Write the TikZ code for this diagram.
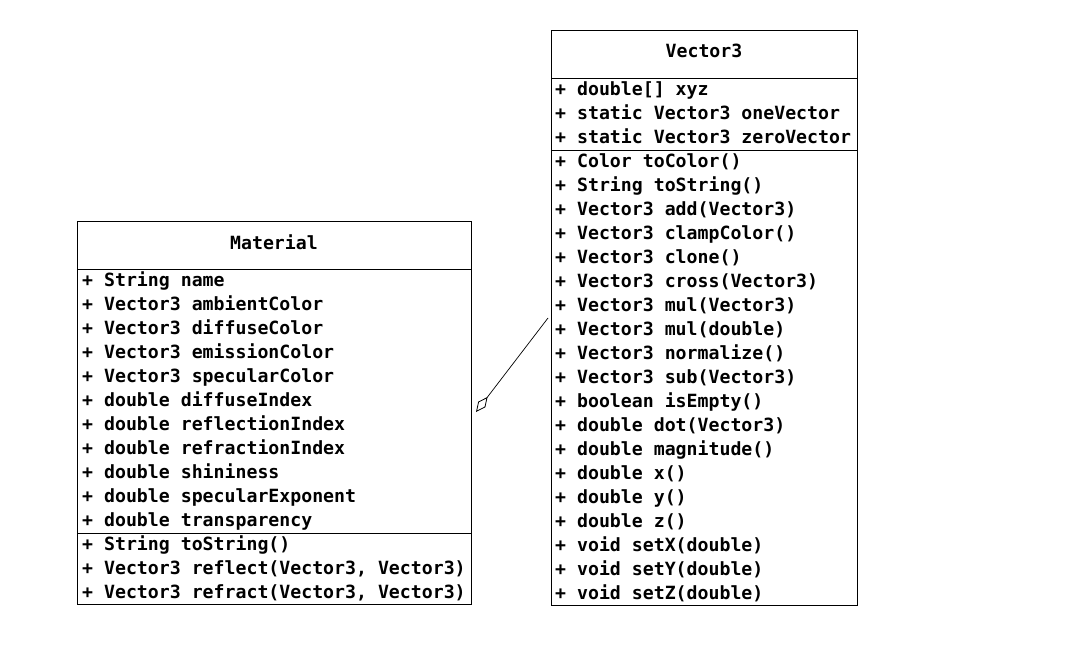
\documentclass[tikz,border=0pt]{standalone}
\usepackage{fontspec}
\setmonofont{DejaVu Sans Mono}
\usetikzlibrary{arrows.meta}
\begin{document}
\begin{tikzpicture}[x=1pt,y=-1pt,
  umlbox/.style={draw, line width=1pt, anchor=north west, inner sep=0pt},
  sep/.style={line width=1pt},
  member/.style={anchor=base west, inner sep=0pt, font=\ttfamily\bfseries\fontsize{18.2}{18}\selectfont},
  title/.style={anchor=base, inner sep=0pt, font=\ttfamily\bfseries\fontsize{18.2}{18}\selectfont},
  assoc/.style={line width=0.7pt, -{Diamond[open, length=19pt, width=9pt, line width=0.8pt]}}]
\useasboundingbox (0,0) rectangle (1073,656);
\fill[white] (0,0) rectangle (1073,656);

% Material
\node[umlbox, minimum width=394pt, minimum height=383pt] (mat) at (77,221) {};
\draw[sep] ([yshift=-48pt]mat.north west) -- ([yshift=-48pt]mat.north east);
\draw[sep] ([yshift=-312pt]mat.north west) -- ([yshift=-312pt]mat.north east);
\node[title] (mattitle) at (274,249) {Material};
\node[member] (ma1) at (82,286) {+ String name};
\node[member] (ma2) at (82,310) {+ Vector3 ambientColor};
\node[member] (ma3) at (82,334) {+ Vector3 diffuseColor};
\node[member] (ma4) at (82,358) {+ Vector3 emissionColor};
\node[member] (ma5) at (82,382) {+ Vector3 specularColor};
\node[member] (ma6) at (82,406) {+ double diffuseIndex};
\node[member] (ma7) at (82,430) {+ double reflectionIndex};
\node[member] (ma8) at (82,454) {+ double refractionIndex};
\node[member] (ma9) at (82,478) {+ double shininess};
\node[member] (ma10) at (82,502) {+ double specularExponent};
\node[member] (ma11) at (82,526) {+ double transparency};
\node[member] (mm1) at (82,550) {+ String toString()};
\node[member] (mm2) at (82,574) {+ Vector3 reflect(Vector3, Vector3)};
\node[member] (mm3) at (82,598) {+ Vector3 refract(Vector3, Vector3)};

% Vector3
\node[umlbox, minimum width=306pt, minimum height=575pt] (vec) at (551,30) {};
\draw[sep] ([yshift=-48pt]vec.north west) -- ([yshift=-48pt]vec.north east);
\draw[sep] ([yshift=-120pt]vec.north west) -- ([yshift=-120pt]vec.north east);
\node[title] (vectitle) at (704,57) {Vector3};
\node[member] (va1) at (555,95) {+ double[] xyz};
\node[member] (va2) at (555,119) {+ static Vector3 oneVector};
\node[member] (va3) at (555,143) {+ static Vector3 zeroVector};
\node[member] (vm1) at (555,167) {+ Color toColor()};
\node[member] (vm2) at (555,191) {+ String toString()};
\node[member] (vm3) at (555,215) {+ Vector3 add(Vector3)};
\node[member] (vm4) at (555,239) {+ Vector3 clampColor()};
\node[member] (vm5) at (555,263) {+ Vector3 clone()};
\node[member] (vm6) at (555,287) {+ Vector3 cross(Vector3)};
\node[member] (vm7) at (555,311) {+ Vector3 mul(Vector3)};
\node[member] (vm8) at (555,335) {+ Vector3 mul(double)};
\node[member] (vm9) at (555,359) {+ Vector3 normalize()};
\node[member] (vm10) at (555,383) {+ Vector3 sub(Vector3)};
\node[member] (vm11) at (555,407) {+ boolean isEmpty()};
\node[member] (vm12) at (555,431) {+ double dot(Vector3)};
\node[member] (vm13) at (555,455) {+ double magnitude()};
\node[member] (vm14) at (555,479) {+ double x()};
\node[member] (vm15) at (555,503) {+ double y()};
\node[member] (vm16) at (555,527) {+ double z()};
\node[member] (vm17) at (555,551) {+ void setX(double)};
\node[member] (vm18) at (555,575) {+ void setY(double)};
\node[member] (vm19) at (555,599) {+ void setZ(double)};

% association with aggregation diamond
\coordinate (vecend) at (548,318);
\coordinate (diamtip) at (476,412);
\draw[assoc] (vecend) -- (diamtip);
\end{tikzpicture}
\end{document}
